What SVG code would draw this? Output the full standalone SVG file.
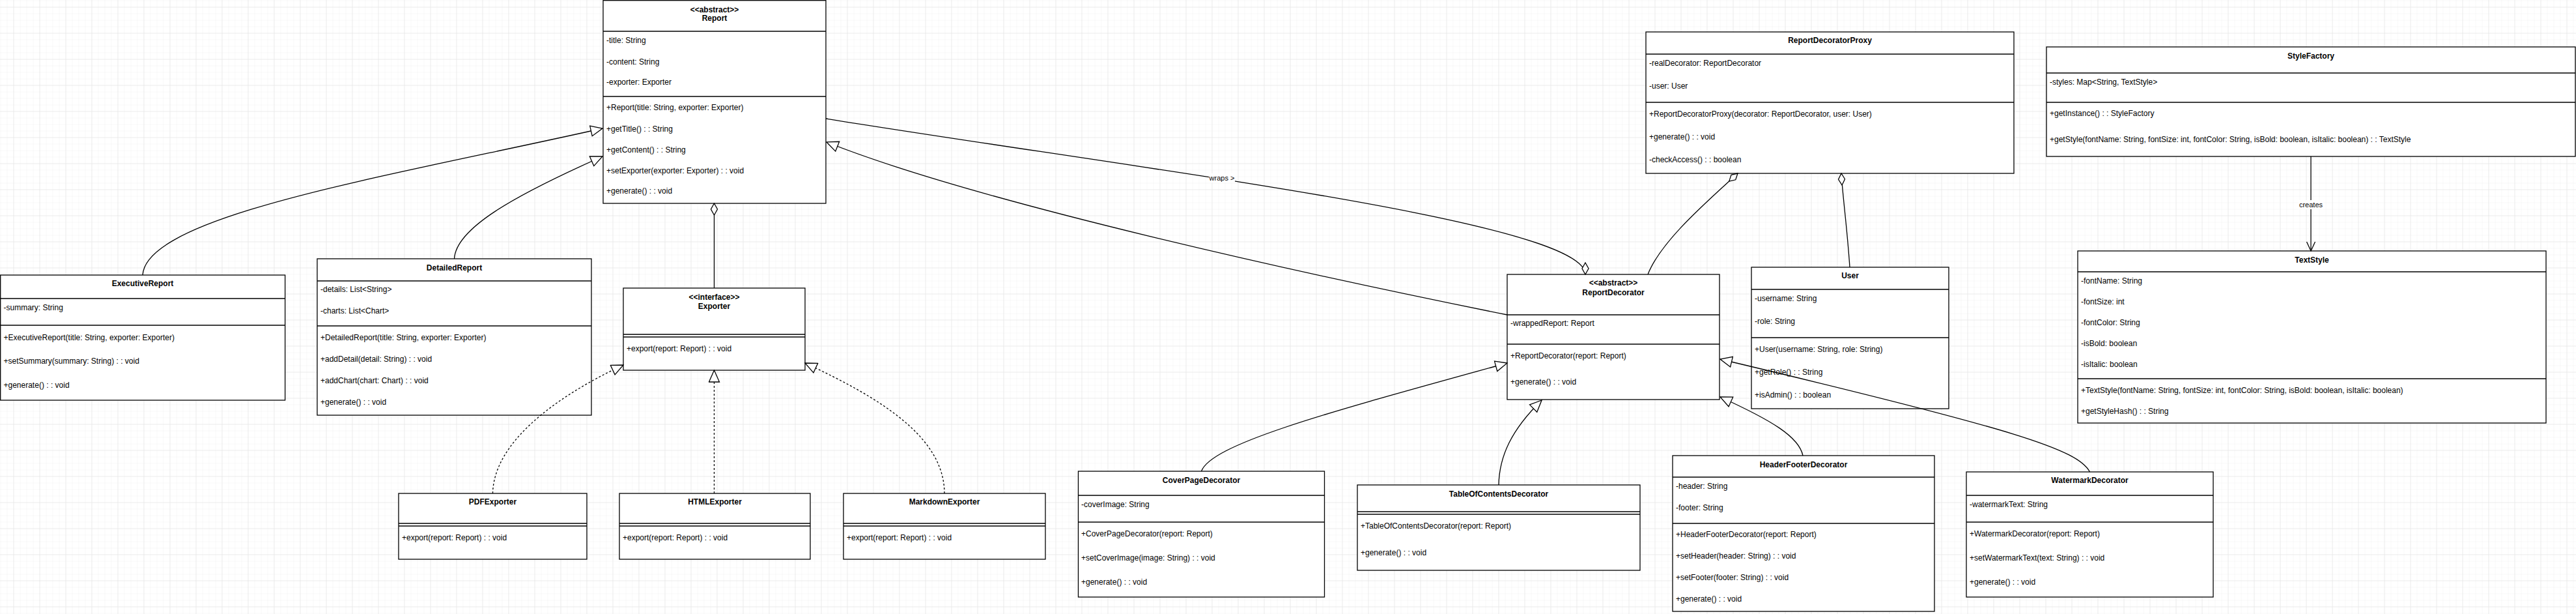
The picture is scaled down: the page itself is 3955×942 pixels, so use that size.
<svg xmlns="http://www.w3.org/2000/svg" width="3955" height="942" viewBox="0 0 3955 942">
<style>
.box{fill:#fff;stroke:#000;stroke-width:1.3}
.sep{stroke:#000;stroke-width:1.3}
.t{font-family:"Liberation Sans",Arial,Helvetica,sans-serif;font-size:12px;fill:#000}
.h{font-weight:bold;text-anchor:middle}
.edge{fill:none;stroke:#000;stroke-width:1.3}
.dash{stroke-dasharray:3 3}
.lbl{font-family:"Liberation Sans",Arial,Helvetica,sans-serif;font-size:11px;fill:#000;text-anchor:middle}
.lblbg{fill:#fff}
</style>
<defs>
<pattern id="gmin" width="10" height="10" patternUnits="userSpaceOnUse" x="0.5" y="0.5"><path d="M10 0H0V10" fill="none" stroke="#f1f1f1" stroke-width="1"/></pattern>
<pattern id="gmaj" width="40" height="40" patternUnits="userSpaceOnUse" x="20.5" y="10.5"><path d="M40 0H0V40" fill="none" stroke="#e2e2e2" stroke-width="1"/></pattern>
<marker id="tri" viewBox="0 0 20 18" refX="19" refY="9" markerWidth="20" markerHeight="18" markerUnits="userSpaceOnUse" orient="auto"><path d="M1,1 L19,9 L1,17 Z" fill="#fff" stroke="#000" stroke-width="1.3"/></marker>
<marker id="dia" viewBox="0 0 20 12" refX="19" refY="6" markerWidth="20" markerHeight="12" markerUnits="userSpaceOnUse" orient="auto"><path d="M1,6 L10,1 L19,6 L10,11 Z" fill="#fff" stroke="#000" stroke-width="1.3"/></marker>
<marker id="open" viewBox="0 0 16 16" refX="15" refY="8" markerWidth="16" markerHeight="16" markerUnits="userSpaceOnUse" orient="auto"><path d="M1,1.5 L15,8 L1,14.5" fill="none" stroke="#000" stroke-width="1.3"/></marker>
</defs>
<rect width="3955" height="942" fill="#fff"/>
<rect width="3955" height="942" fill="url(#gmin)"/>
<rect width="3955" height="942" fill="url(#gmaj)"/>

<g id="Report">
<rect class="box" x="926" y="0.7" width="342" height="311.3"/>
<line class="sep" x1="926" y1="48" x2="1268" y2="48"/>
<line class="sep" x1="926" y1="148" x2="1268" y2="148"/>
<text class="t h" x="1097" y="19">&lt;&lt;abstract&gt;&gt;</text>
<text class="t h" x="1097" y="32">Report</text>
<text class="t" x="931" y="66">-title: String</text>
<text class="t" x="931" y="99">-content: String</text>
<text class="t" x="931" y="130">-exporter: Exporter</text>
<text class="t" x="931" y="169">+Report(title: String, exporter: Exporter)</text>
<text class="t" x="931" y="202">+getTitle() : : String</text>
<text class="t" x="931" y="234">+getContent() : : String</text>
<text class="t" x="931" y="266">+setExporter(exporter: Exporter) : : void</text>
<text class="t" x="931" y="297">+generate() : : void</text>
</g>

<g id="ExecutiveReport">
<rect class="box" x="0.7" y="422" width="437" height="192"/>
<line class="sep" x1="0.7" y1="458" x2="437.7" y2="458"/>
<line class="sep" x1="0.7" y1="499" x2="437.7" y2="499"/>
<text class="t h" x="219" y="439">ExecutiveReport</text>
<text class="t" x="5.5" y="476">-summary: String</text>
<text class="t" x="5.5" y="522">+ExecutiveReport(title: String, exporter: Exporter)</text>
<text class="t" x="5.5" y="558">+setSummary(summary: String) : : void</text>
<text class="t" x="5.5" y="595">+generate() : : void</text>
</g>

<g id="DetailedReport">
<rect class="box" x="487" y="397" width="421" height="240"/>
<line class="sep" x1="487" y1="431" x2="908" y2="431"/>
<line class="sep" x1="487" y1="500" x2="908" y2="500"/>
<text class="t h" x="697.5" y="415">DetailedReport</text>
<text class="t" x="492" y="448">-details: List&lt;String&gt;</text>
<text class="t" x="492" y="481">-charts: List&lt;Chart&gt;</text>
<text class="t" x="492" y="522">+DetailedReport(title: String, exporter: Exporter)</text>
<text class="t" x="492" y="555">+addDetail(detail: String) : : void</text>
<text class="t" x="492" y="588">+addChart(chart: Chart) : : void</text>
<text class="t" x="492" y="621">+generate() : : void</text>
</g>

<g id="Exporter">
<rect class="box" x="957" y="442" width="279" height="126"/>
<line class="sep" x1="957" y1="513" x2="1236" y2="513"/>
<line class="sep" x1="957" y1="517" x2="1236" y2="517"/>
<text class="t h" x="1096.5" y="460">&lt;&lt;interface&gt;&gt;</text>
<text class="t h" x="1096.5" y="474">Exporter</text>
<text class="t" x="962" y="539">+export(report: Report) : : void</text>
</g>

<g id="PDFExporter">
<rect class="box" x="612" y="757" width="289" height="101"/>
<line class="sep" x1="612" y1="803" x2="901" y2="803"/>
<line class="sep" x1="612" y1="807" x2="901" y2="807"/>
<text class="t h" x="756.5" y="774">PDFExporter</text>
<text class="t" x="617" y="829">+export(report: Report) : : void</text>
</g>

<g id="HTMLExporter">
<rect class="box" x="951" y="757" width="293" height="101"/>
<line class="sep" x1="951" y1="803" x2="1244" y2="803"/>
<line class="sep" x1="951" y1="807" x2="1244" y2="807"/>
<text class="t h" x="1097.5" y="774">HTMLExporter</text>
<text class="t" x="956" y="829">+export(report: Report) : : void</text>
</g>

<g id="MarkdownExporter">
<rect class="box" x="1295" y="757" width="310" height="101"/>
<line class="sep" x1="1295" y1="803" x2="1605" y2="803"/>
<line class="sep" x1="1295" y1="807" x2="1605" y2="807"/>
<text class="t h" x="1450" y="774">MarkdownExporter</text>
<text class="t" x="1300" y="829">+export(report: Report) : : void</text>
</g>

<g id="ReportDecoratorProxy">
<rect class="box" x="2527" y="49" width="565" height="217"/>
<line class="sep" x1="2527" y1="83" x2="3092" y2="83"/>
<line class="sep" x1="2527" y1="157" x2="3092" y2="157"/>
<text class="t h" x="2809.5" y="66">ReportDecoratorProxy</text>
<text class="t" x="2532" y="101">-realDecorator: ReportDecorator</text>
<text class="t" x="2532" y="136">-user: User</text>
<text class="t" x="2532" y="179">+ReportDecoratorProxy(decorator: ReportDecorator, user: User)</text>
<text class="t" x="2532" y="214">+generate() : : void</text>
<text class="t" x="2532" y="249">-checkAccess() : : boolean</text>
</g>

<g id="StyleFactory">
<rect class="box" x="3142" y="72" width="812" height="168"/>
<line class="sep" x1="3142" y1="112" x2="3954" y2="112"/>
<line class="sep" x1="3142" y1="157" x2="3954" y2="157"/>
<text class="t h" x="3548" y="90">StyleFactory</text>
<text class="t" x="3147" y="130">-styles: Map&lt;String, TextStyle&gt;</text>
<text class="t" x="3147" y="178">+getInstance() : : StyleFactory</text>
<text class="t" x="3147" y="218">+getStyle(fontName: String, fontSize: int, fontColor: String, isBold: boolean, isItalic: boolean) : : TextStyle</text>
</g>

<g id="TextStyle">
<rect class="box" x="3190" y="385" width="719" height="264"/>
<line class="sep" x1="3190" y1="417" x2="3909" y2="417"/>
<line class="sep" x1="3190" y1="581" x2="3909" y2="581"/>
<text class="t h" x="3549.5" y="403">TextStyle</text>
<text class="t" x="3195" y="435">-fontName: String</text>
<text class="t" x="3195" y="467">-fontSize: int</text>
<text class="t" x="3195" y="499">-fontColor: String</text>
<text class="t" x="3195" y="531">-isBold: boolean</text>
<text class="t" x="3195" y="563">-isItalic: boolean</text>
<text class="t" x="3195" y="603">+TextStyle(fontName: String, fontSize: int, fontColor: String, isBold: boolean, isItalic: boolean)</text>
<text class="t" x="3195" y="635">+getStyleHash() : : String</text>
</g>

<g id="ReportDecorator">
<rect class="box" x="2314" y="421" width="326" height="192"/>
<line class="sep" x1="2314" y1="483" x2="2640" y2="483"/>
<line class="sep" x1="2314" y1="528" x2="2640" y2="528"/>
<text class="t h" x="2477" y="438">&lt;&lt;abstract&gt;&gt;</text>
<text class="t h" x="2477" y="453">ReportDecorator</text>
<text class="t" x="2319" y="500">-wrappedReport: Report</text>
<text class="t" x="2319" y="550">+ReportDecorator(report: Report)</text>
<text class="t" x="2319" y="590">+generate() : : void</text>
</g>

<g id="User">
<rect class="box" x="2689" y="410" width="303" height="217"/>
<line class="sep" x1="2689" y1="444" x2="2992" y2="444"/>
<line class="sep" x1="2689" y1="518" x2="2992" y2="518"/>
<text class="t h" x="2840.5" y="427">User</text>
<text class="t" x="2694" y="462">-username: String</text>
<text class="t" x="2694" y="497">-role: String</text>
<text class="t" x="2694" y="540">+User(username: String, role: String)</text>
<text class="t" x="2694" y="575">+getRole() : : String</text>
<text class="t" x="2694" y="610">+isAdmin() : : boolean</text>
</g>

<g id="CoverPageDecorator">
<rect class="box" x="1655.5" y="723" width="378" height="193"/>
<line class="sep" x1="1655.5" y1="760" x2="2033.5" y2="760"/>
<line class="sep" x1="1655.5" y1="801" x2="2033.5" y2="801"/>
<text class="t h" x="1844.5" y="741">CoverPageDecorator</text>
<text class="t" x="1660" y="778">-coverImage: String</text>
<text class="t" x="1660" y="823">+CoverPageDecorator(report: Report)</text>
<text class="t" x="1660" y="860">+setCoverImage(image: String) : : void</text>
<text class="t" x="1660" y="897">+generate() : : void</text>
</g>

<g id="TableOfContentsDecorator">
<rect class="box" x="2084" y="744" width="434" height="131"/>
<line class="sep" x1="2084" y1="785" x2="2518" y2="785"/>
<line class="sep" x1="2084" y1="789" x2="2518" y2="789"/>
<text class="t h" x="2301" y="762">TableOfContentsDecorator</text>
<text class="t" x="2089" y="811">+TableOfContentsDecorator(report: Report)</text>
<text class="t" x="2089" y="852">+generate() : : void</text>
</g>

<g id="HeaderFooterDecorator">
<rect class="box" x="2568" y="699" width="402" height="239"/>
<line class="sep" x1="2568" y1="732" x2="2970" y2="732"/>
<line class="sep" x1="2568" y1="803" x2="2970" y2="803"/>
<text class="t h" x="2769" y="717">HeaderFooterDecorator</text>
<text class="t" x="2573" y="750">-header: String</text>
<text class="t" x="2573" y="783">-footer: String</text>
<text class="t" x="2573" y="824">+HeaderFooterDecorator(report: Report)</text>
<text class="t" x="2573" y="857">+setHeader(header: String) : : void</text>
<text class="t" x="2573" y="890">+setFooter(footer: String) : : void</text>
<text class="t" x="2573" y="923">+generate() : : void</text>
</g>

<g id="WatermarkDecorator">
<rect class="box" x="3019" y="724" width="379" height="192"/>
<line class="sep" x1="3019" y1="760" x2="3398" y2="760"/>
<line class="sep" x1="3019" y1="801" x2="3398" y2="801"/>
<text class="t h" x="3208.5" y="741">WatermarkDecorator</text>
<text class="t" x="3024" y="778">-watermarkText: String</text>
<text class="t" x="3024" y="823">+WatermarkDecorator(report: Report)</text>
<text class="t" x="3024" y="860">+setWatermarkText(text: String) : : void</text>
<text class="t" x="3024" y="897">+generate() : : void</text>
</g>

<g id="connectors">
<path id="e-exec-report" class="edge" d="M219,422 C225,330 600,270 925,197" marker-end="url(#tri)"/>
<path id="e-detailed-report" class="edge" d="M697.5,397 C700,350 790,300 925,240" marker-end="url(#tri)"/>
<path id="e-exporter-report" class="edge" d="M1096.5,442 L1096.5,312" marker-end="url(#dia)"/>
<path id="e-pdf-exporter" class="edge dash" d="M756.5,757 C758,680 850,610 957,560" marker-end="url(#tri)"/>
<path id="e-html-exporter" class="edge dash" d="M1096.5,757 L1096.5,568" marker-end="url(#tri)"/>
<path id="e-md-exporter" class="edge dash" d="M1450,757 C1450,670 1350,610 1236,557" marker-end="url(#tri)"/>
<path id="e-wraps" class="edge" d="M1268,182 C1750,260 2434,340 2434,421" marker-end="url(#dia)"/>
<rect class="lblbg" x="1856" y="266" width="40" height="14"/>
<text class="lbl" x="1876" y="277">wraps &gt;</text>
<path id="e-decorator-report" class="edge" d="M2314,483 C2000,420 1500,310 1269,218" marker-end="url(#tri)"/>
<path id="e-decorator-proxy" class="edge" d="M2530,421 C2550,370 2620,310 2668,266" marker-end="url(#dia)"/>
<path id="e-user-proxy" class="edge" d="M2840,410 C2836,350 2829,300 2827,266" marker-end="url(#dia)"/>
<path id="e-creates" class="edge" d="M3548,240 L3548,385" marker-end="url(#open)"/>
<rect class="lblbg" x="3529" y="307" width="38" height="14"/>
<text class="lbl" x="3548" y="318">creates</text>
<path id="e-cover-decorator" class="edge" d="M1844.5,723 C1860,680 2050,630 2314,557" marker-end="url(#tri)"/>
<path id="e-toc-decorator" class="edge" d="M2301,744 C2302,700 2320,660 2367,614" marker-end="url(#tri)"/>
<path id="e-hf-decorator" class="edge" d="M2768,699 C2762,670 2720,645 2641,609" marker-end="url(#tri)"/>
<path id="e-wm-decorator" class="edge" d="M3208.5,724 C3190,690 3100,660 2641,551" marker-end="url(#tri)"/>
</g>
</svg>
